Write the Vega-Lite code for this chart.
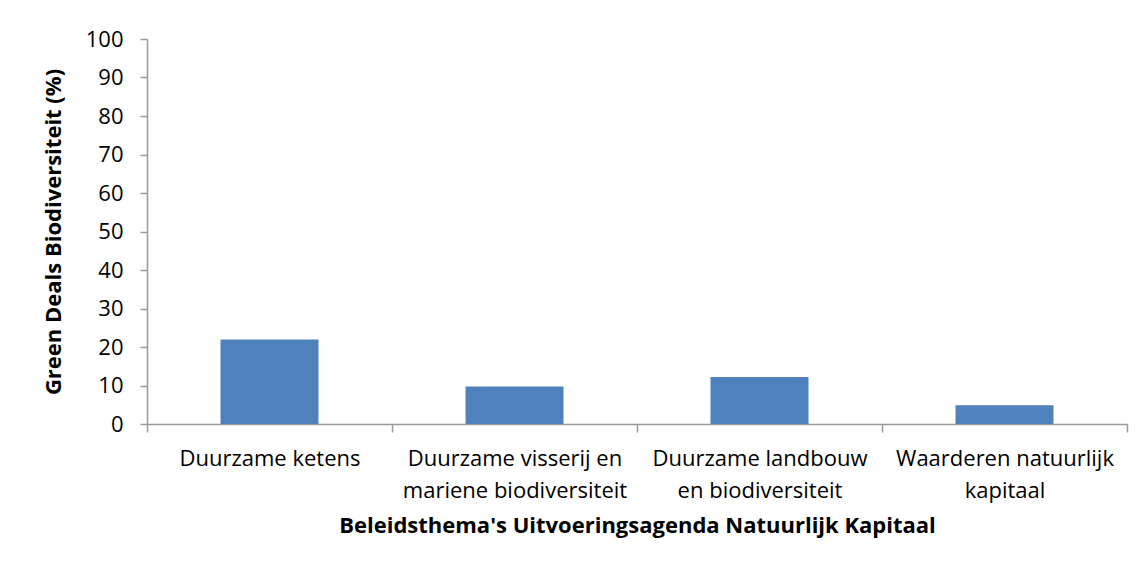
{
  "$schema": "https://vega.github.io/schema/vega-lite/v6.json",
  "autosize": "none",
  "width": 980,
  "height": 385,
  "padding": {"left": 147, "top": 39, "right": 19, "bottom": 150},
  "background": "white",
  "data": {
    "values": [
      {"thema": "Duurzame ketens", "pct": 21.95},
      {"thema": "Duurzame visserij en mariene biodiversiteit", "pct": 9.76},
      {"thema": "Duurzame landbouw en biodiversiteit", "pct": 12.2},
      {"thema": "Waarderen natuurlijk kapitaal", "pct": 4.88}
    ]
  },
  "mark": {"type": "bar", "color": "#4F81BD", "width": {"band": 0.4}},
  "encoding": {
    "x": {
      "field": "thema",
      "type": "nominal",
      "sort": null,
      "scale": {"paddingInner": 0, "paddingOuter": 0},
      "axis": {
        "title": "Beleidsthema's Uitvoeringsagenda Natuurlijk Kapitaal",
        "labelAngle": 0,
        "tickBand": "extent",
        "tickSize": 8,
        "labelLimit": 0,
        "labelExpr": "datum.value == 'Duurzame visserij en mariene biodiversiteit' ? ['Duurzame visserij en', 'mariene biodiversiteit'] : datum.value == 'Duurzame landbouw en biodiversiteit' ? ['Duurzame landbouw', 'en biodiversiteit'] : datum.value == 'Waarderen natuurlijk kapitaal' ? ['Waarderen natuurlijk', 'kapitaal'] : datum.value",
        "labelLineHeight": 32,
        "labelPadding": 16,
        "titlePadding": 14
      }
    },
    "y": {
      "field": "pct",
      "type": "quantitative",
      "scale": {"domain": [0, 100]},
      "axis": {
        "title": "Green Deals Biodiversiteit (%)",
        "values": [0, 10, 20, 30, 40, 50, 60, 70, 80, 90, 100],
        "grid": false,
        "tickSize": 7,
        "labelPadding": 17,
        "titlePadding": 20
      }
    }
  },
  "config": {
    "view": {"stroke": null},
    "font": "Open Sans",
    "axis": {
      "domainColor": "#999999",
      "tickColor": "#999999",
      "domainWidth": 1.5,
      "tickWidth": 1.5,
      "labelFont": "Open Sans",
      "labelFontSize": 22,
      "labelColor": "#000000",
      "titleFont": "Open Sans",
      "titleFontSize": 22,
      "titleFontWeight": "bold",
      "titleColor": "#000000"
    }
  }
}
